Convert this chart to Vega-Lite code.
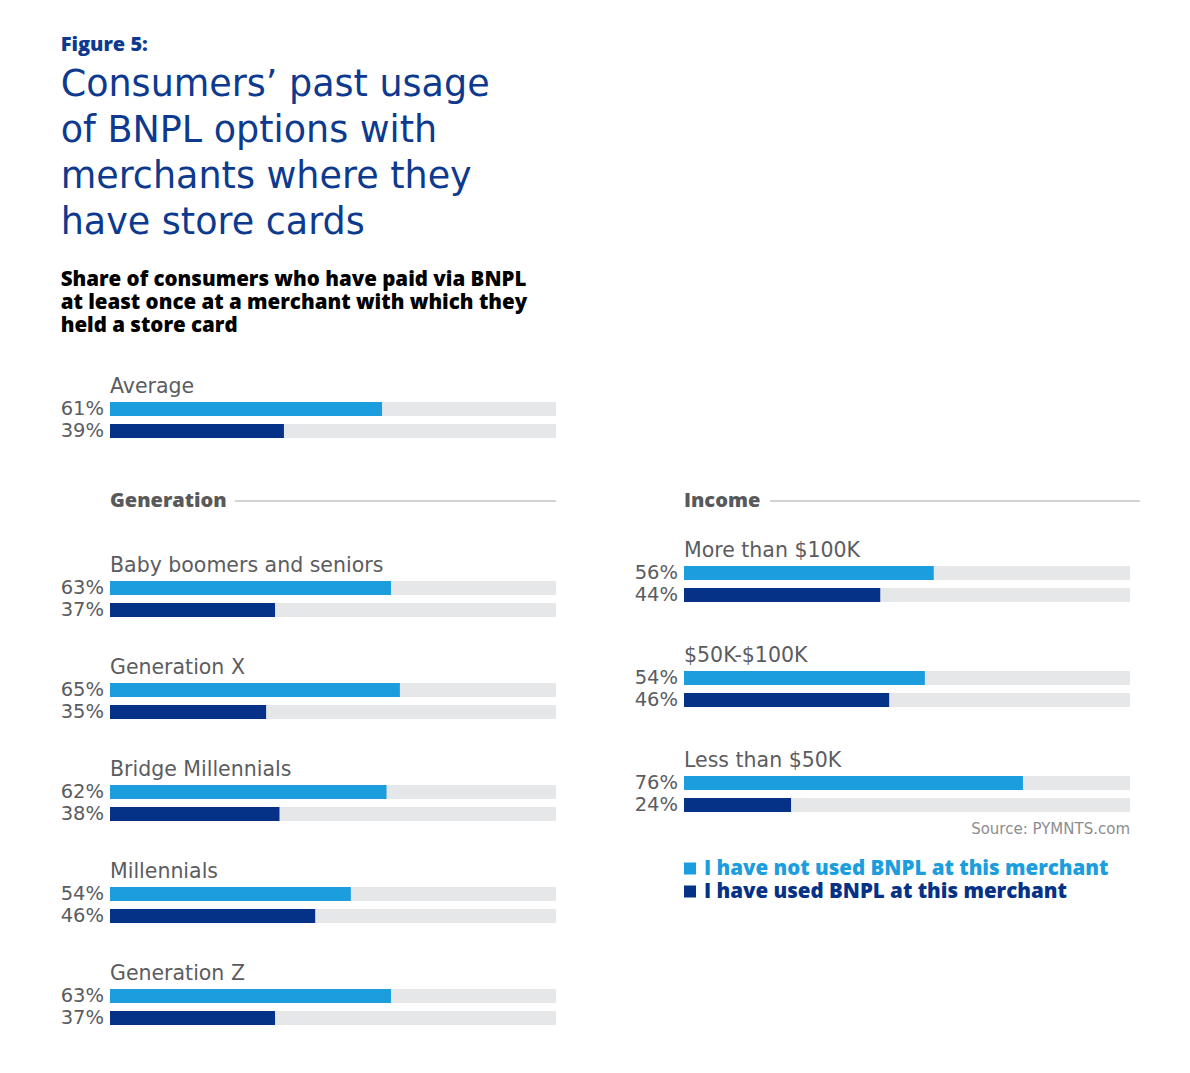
{
  "$schema": "https://vega.github.io/schema/vega-lite/v6.json",
  "background": "white",
  "padding": {"left": 60, "top": 34, "right": 40, "bottom": 20},
  "title": {
    "text": "Figure 5:",
    "subtitle": ["Consumers’ past usage", "of BNPL options with", "merchants where they", "have store cards"],
    "anchor": "start",
    "font": "Open Sans", "fontSize": 20, "fontWeight": 800, "color": "#0d3a8e",
    "subtitleFont": "DejaVu Sans", "subtitleFontSize": 36.5, "subtitleColor": "#0d3a8e",
    "subtitleLineHeight": 46, "subtitlePadding": 12, "offset": 29
  },
  "config": {
    "view": {"stroke": null},
    "font": "DejaVu Sans",
    "header": {"labelFont": "DejaVu Sans", "labelFontSize": 20.5, "labelColor": "#5b5c5f", "labelAnchor": "start", "labelAngle": 0, "labelPadding": -19},
    "text": {"font": "DejaVu Sans"}
  },
  "datasets": {
    "avg": [
      {"group": "Average", "series": "I have not used BNPL at this merchant", "value": 0.61},
      {"group": "Average", "series": "I have used BNPL at this merchant", "value": 0.39}
    ],
    "gen": [
      {"group": "Baby boomers and seniors", "series": "I have not used BNPL at this merchant", "value": 0.63},
      {"group": "Baby boomers and seniors", "series": "I have used BNPL at this merchant", "value": 0.37},
      {"group": "Generation X", "series": "I have not used BNPL at this merchant", "value": 0.65},
      {"group": "Generation X", "series": "I have used BNPL at this merchant", "value": 0.35},
      {"group": "Bridge Millennials", "series": "I have not used BNPL at this merchant", "value": 0.62},
      {"group": "Bridge Millennials", "series": "I have used BNPL at this merchant", "value": 0.38},
      {"group": "Millennials", "series": "I have not used BNPL at this merchant", "value": 0.54},
      {"group": "Millennials", "series": "I have used BNPL at this merchant", "value": 0.46},
      {"group": "Generation Z", "series": "I have not used BNPL at this merchant", "value": 0.63},
      {"group": "Generation Z", "series": "I have used BNPL at this merchant", "value": 0.37}
    ],
    "inc": [
      {"group": "More than $100K", "series": "I have not used BNPL at this merchant", "value": 0.56},
      {"group": "More than $100K", "series": "I have used BNPL at this merchant", "value": 0.44},
      {"group": "$50K-$100K", "series": "I have not used BNPL at this merchant", "value": 0.54},
      {"group": "$50K-$100K", "series": "I have used BNPL at this merchant", "value": 0.46},
      {"group": "Less than $50K", "series": "I have not used BNPL at this merchant", "value": 0.76},
      {"group": "Less than $50K", "series": "I have used BNPL at this merchant", "value": 0.24}
    ],
    "sections": [
      {"section": "Generation"},
      {"section": "Income"}
    ],
    "legend": [
      {"series": "I have not used BNPL at this merchant"},
      {"series": "I have used BNPL at this merchant"}
    ]
  },
  "spacing": 49,
  "vconcat": [
    {
      "data": {"name": "avg"},
      "title": {
        "text": ["Share of consumers who have paid via BNPL", "at least once at a merchant with which they", "held a store card"],
        "anchor": "start", "font": "Open Sans", "fontSize": 20.5, "fontWeight": 800, "color": "#000000", "lineHeight": 23, "offset": 40
      },
      "facet": {"field": "group", "type": "nominal", "title": null},
      "columns": 1,
      "spec": {
        "width": 446, "height": 44,
        "encoding": {"y": {"field": "series", "type": "nominal", "axis": null, "scale": {"paddingInner": 0.364, "paddingOuter": 0.182}}},
        "layer": [
          {"mark": {"type": "bar", "color": "#e6e7e9"}, "encoding": {"x": {"datum": 1, "type": "quantitative", "scale": {"domain": [0, 1]}, "axis": null}}},
          {"mark": {"type": "bar"}, "encoding": {"x": {"field": "value", "type": "quantitative", "scale": {"domain": [0, 1]}, "axis": null}, "color": {"field": "series", "type": "nominal", "scale": {"domain": ["I have not used BNPL at this merchant", "I have used BNPL at this merchant"], "range": ["#1b9dde", "#053287"]}, "legend": null}}},
          {"mark": {"type": "text", "align": "right", "baseline": "middle", "dx": -6, "fontSize": 19.5, "color": "#5b5c5f"}, "encoding": {"x": {"datum": 0, "type": "quantitative"}, "text": {"field": "value", "type": "quantitative", "format": ".0%"}}}
        ]
      }
    },
    {
      "spacing": 77,
      "hconcat": [
        {
          "spacing": 44,
          "vconcat": [
            {
              "data": {"name": "sections"},
              "transform": [{"filter": "datum.section == 'Generation'"}],
              "width": 446, "height": 20,
              "layer": [
                {"mark": {"type": "rule", "color": "#a7a8aa", "strokeWidth": 1.2}, "encoding": {"x": {"datum": 0.28, "type": "quantitative", "scale": {"domain": [0, 1]}, "axis": null}, "x2": {"datum": 1}}},
                {"mark": {"type": "text", "align": "left", "baseline": "middle", "font": "Open Sans", "fontSize": 20, "fontWeight": 800, "color": "#58595b"}, "encoding": {"x": {"datum": 0, "type": "quantitative"}, "text": {"field": "section"}}}
              ]
            },
            {
              "data": {"name": "gen"},
              "facet": {"field": "group", "type": "nominal", "title": null, "sort": ["Baby boomers and seniors", "Generation X", "Bridge Millennials", "Millennials", "Generation Z"]},
              "columns": 1,
              "spacing": 36,
              "spec": {
                "width": 446, "height": 44,
                "encoding": {"y": {"field": "series", "type": "nominal", "axis": null, "scale": {"paddingInner": 0.364, "paddingOuter": 0.182}}},
                "layer": [
                  {"mark": {"type": "bar", "color": "#e6e7e9"}, "encoding": {"x": {"datum": 1, "type": "quantitative", "scale": {"domain": [0, 1]}, "axis": null}}},
                  {"mark": {"type": "bar"}, "encoding": {"x": {"field": "value", "type": "quantitative", "scale": {"domain": [0, 1]}, "axis": null}, "color": {"field": "series", "type": "nominal", "scale": {"domain": ["I have not used BNPL at this merchant", "I have used BNPL at this merchant"], "range": ["#1b9dde", "#053287"]}, "legend": null}}},
                  {"mark": {"type": "text", "align": "right", "baseline": "middle", "dx": -6, "fontSize": 19.5, "color": "#5b5c5f"}, "encoding": {"x": {"datum": 0, "type": "quantitative"}, "text": {"field": "value", "type": "quantitative", "format": ".0%"}}}
                ]
              }
            }
          ]
        },
        {
          "spacing": 29,
          "vconcat": [
            {
              "data": {"name": "sections"},
              "transform": [{"filter": "datum.section == 'Income'"}],
              "width": 446, "height": 20,
              "layer": [
                {"mark": {"type": "rule", "color": "#a7a8aa", "strokeWidth": 1.2}, "encoding": {"x": {"datum": 0.193, "type": "quantitative", "scale": {"domain": [0, 1]}, "axis": null}, "x2": {"datum": 1.022}}},
                {"mark": {"type": "text", "align": "left", "baseline": "middle", "font": "Open Sans", "fontSize": 20, "fontWeight": 800, "color": "#58595b"}, "encoding": {"x": {"datum": 0, "type": "quantitative"}, "text": {"field": "section"}}}
              ]
            },
            {
              "spacing": 6,
              "vconcat": [
                {
                  "data": {"name": "inc"},
                  "facet": {"field": "group", "type": "nominal", "title": null, "sort": ["More than $100K", "$50K-$100K", "Less than $50K"]},
                  "columns": 1,
                  "spacing": 39,
                  "spec": {
                    "width": 446, "height": 44,
                    "encoding": {"y": {"field": "series", "type": "nominal", "axis": null, "scale": {"paddingInner": 0.364, "paddingOuter": 0.182}}},
                    "layer": [
                      {"mark": {"type": "bar", "color": "#e6e7e9"}, "encoding": {"x": {"datum": 1, "type": "quantitative", "scale": {"domain": [0, 1]}, "axis": null}}},
                      {"mark": {"type": "bar"}, "encoding": {"x": {"field": "value", "type": "quantitative", "scale": {"domain": [0, 1]}, "axis": null}, "color": {"field": "series", "type": "nominal", "scale": {"domain": ["I have not used BNPL at this merchant", "I have used BNPL at this merchant"], "range": ["#1b9dde", "#053287"]}, "legend": null}}},
                      {"mark": {"type": "text", "align": "right", "baseline": "middle", "dx": -6, "fontSize": 19.5, "color": "#5b5c5f"}, "encoding": {"x": {"datum": 0, "type": "quantitative"}, "text": {"field": "value", "type": "quantitative", "format": ".0%"}}}
                    ]
                  }
                },
                {
                  "data": {"name": "legend"},
                  "width": 446, "height": 46,
                  "title": {"text": "Source: PYMNTS.com", "anchor": "end", "frame": "group", "font": "DejaVu Sans", "fontSize": 15, "fontWeight": "normal", "color": "#8c8d90", "offset": 20},
                  "encoding": {
                    "y": {"field": "series", "type": "nominal", "axis": null},
                    "color": {"field": "series", "type": "nominal", "scale": {"domain": ["I have not used BNPL at this merchant", "I have used BNPL at this merchant"], "range": ["#1b9dde", "#053287"]}, "legend": null}
                  },
                  "layer": [
                    {"mark": {"type": "square", "size": 144, "filled": true, "opacity": 1}, "encoding": {"x": {"datum": 0.0135, "type": "quantitative", "scale": {"domain": [0, 1]}, "axis": null}}},
                    {"mark": {"type": "text", "align": "left", "baseline": "middle", "dx": 20, "font": "Open Sans", "fontSize": 20.5, "fontWeight": 800}, "encoding": {"x": {"datum": 0, "type": "quantitative"}, "text": {"field": "series"}}}
                  ]
                }
              ]
            }
          ]
        }
      ]
    }
  ]
}
